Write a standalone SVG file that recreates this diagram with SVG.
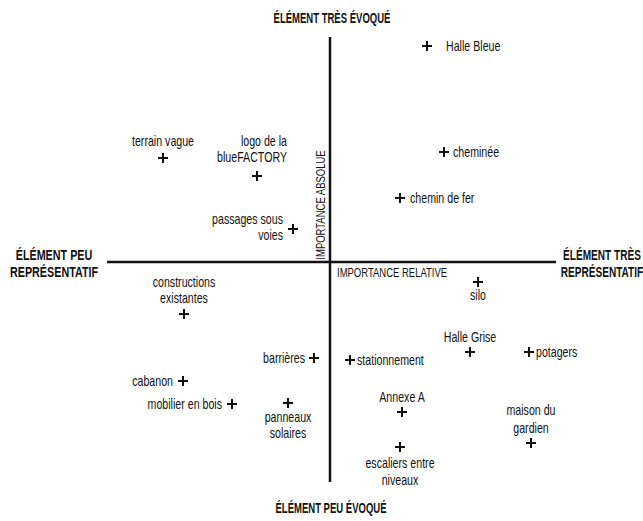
<svg xmlns="http://www.w3.org/2000/svg" width="643" height="521" viewBox="0 0 643 521">
<style>
text{font-family:"Liberation Sans",Arial,sans-serif;fill:#111;}
.l{font-size:14px;}
.t{font-size:14px;font-weight:bold;}
.ax{font-size:13px;}
.axis{stroke:#111;stroke-width:2.5;fill:none;}
.p{stroke:#111;stroke-width:2;fill:none;}
</style>
<defs>
<path id="plus" d="M-5,0H5M0,-5V5" class="p"/>
</defs>
<rect width="643" height="521" fill="#fff"/>
<g id="connectors">
<line class="axis" x1="330" y1="37" x2="330" y2="482"/>
<line class="axis" x1="107" y1="262" x2="556" y2="262"/>
</g>
<g id="titles">
<text class="t" text-anchor="middle" transform="translate(332,23) scale(0.68,1)">ÉLÉMENT TRÈS ÉVOQUÉ</text>
<text class="t" text-anchor="middle" transform="translate(331,513) scale(0.68,1)">ÉLÉMENT PEU ÉVOQUÉ</text>
<text class="t" text-anchor="middle" transform="translate(54,260) scale(0.77,1)">ÉLÉMENT PEU</text>
<text class="t" text-anchor="middle" transform="translate(54,277) scale(0.77,1)">REPRÉSENTATIF</text>
<text class="t" text-anchor="middle" transform="translate(602,260) scale(0.72,1)">ÉLÉMENT TRÈS</text>
<text class="t" text-anchor="middle" transform="translate(602,277) scale(0.72,1)">REPRÉSENTATIF</text>
<text class="ax" text-anchor="middle" transform="translate(325,205) rotate(-90) scale(0.73,1)">IMPORTANCE ABSOLUE</text>
<text class="ax" transform="translate(337,277) scale(0.73,1)">IMPORTANCE RELATIVE</text>
</g>
<g id="halle-bleue"><use href="#plus" x="427" y="46"/><text class="l" transform="translate(446,51) scale(0.76,1)">Halle Bleue</text></g>
<g id="cheminee"><use href="#plus" x="444" y="152"/><text class="l" transform="translate(453,157) scale(0.76,1)">cheminée</text></g>
<g id="chemin-de-fer"><use href="#plus" x="400" y="198"/><text class="l" transform="translate(410,203) scale(0.76,1)">chemin de fer</text></g>
<g id="terrain-vague"><use href="#plus" x="163" y="158"/><text class="l" text-anchor="middle" transform="translate(163,146) scale(0.76,1)">terrain vague</text></g>
<g id="logo"><use href="#plus" x="257" y="176"/><text class="l" text-anchor="end" transform="translate(287,146) scale(0.76,1)">logo de la</text><text class="l" text-anchor="end" transform="translate(287,162) scale(0.76,1)">blueFACTORY</text></g>
<g id="passages"><use href="#plus" x="293" y="229"/><text class="l" text-anchor="end" transform="translate(283,224) scale(0.76,1)">passages sous</text><text class="l" text-anchor="end" transform="translate(283,240) scale(0.76,1)">voies</text></g>
<g id="constructions"><use href="#plus" x="184" y="314"/><text class="l" text-anchor="middle" transform="translate(184,287) scale(0.76,1)">constructions</text><text class="l" text-anchor="middle" transform="translate(184,303) scale(0.76,1)">existantes</text></g>
<g id="barrieres"><use href="#plus" x="314" y="358"/><text class="l" text-anchor="end" transform="translate(305,363) scale(0.76,1)">barrières</text></g>
<g id="cabanon"><use href="#plus" x="183" y="381"/><text class="l" text-anchor="end" transform="translate(173,386) scale(0.76,1)">cabanon</text></g>
<g id="mobilier"><use href="#plus" x="232" y="404"/><text class="l" text-anchor="end" transform="translate(222,409) scale(0.76,1)">mobilier en bois</text></g>
<g id="panneaux"><use href="#plus" x="288" y="403"/><text class="l" text-anchor="middle" transform="translate(288,422) scale(0.76,1)">panneaux</text><text class="l" text-anchor="middle" transform="translate(288,438) scale(0.76,1)">solaires</text></g>
<g id="silo"><use href="#plus" x="478" y="282"/><text class="l" text-anchor="middle" transform="translate(478,300) scale(0.76,1)">silo</text></g>
<g id="stationnement"><use href="#plus" x="350" y="360"/><text class="l" transform="translate(357,365) scale(0.76,1)">stationnement</text></g>
<g id="halle-grise"><use href="#plus" x="470" y="352"/><text class="l" text-anchor="middle" transform="translate(470,342) scale(0.76,1)">Halle Grise</text></g>
<g id="potagers"><use href="#plus" x="529" y="352"/><text class="l" transform="translate(536,357) scale(0.76,1)">potagers</text></g>
<g id="annexe-a"><use href="#plus" x="402" y="412"/><text class="l" text-anchor="middle" transform="translate(402,402) scale(0.76,1)">Annexe A</text></g>
<g id="maison"><use href="#plus" x="531" y="443"/><text class="l" text-anchor="middle" transform="translate(531,415) scale(0.76,1)">maison du</text><text class="l" text-anchor="middle" transform="translate(531,433) scale(0.76,1)">gardien</text></g>
<g id="escaliers"><use href="#plus" x="400" y="447"/><text class="l" text-anchor="middle" transform="translate(400,468) scale(0.76,1)">escaliers entre</text><text class="l" text-anchor="middle" transform="translate(400,485) scale(0.76,1)">niveaux</text></g>
</svg>
